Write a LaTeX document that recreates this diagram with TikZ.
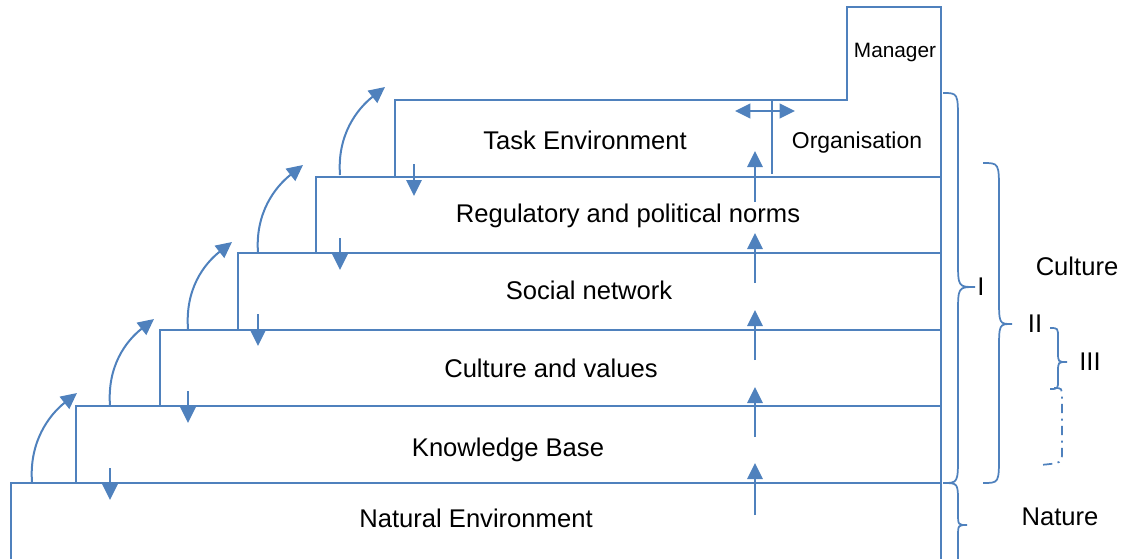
\documentclass[tikz,border=0pt]{standalone}
\usepackage{fontspec}
\setmainfont{Liberation Sans}
\usetikzlibrary{arrows.meta}
\definecolor{bl}{RGB}{79,129,189}
\begin{document}
\begin{tikzpicture}[x=0.75pt,y=-0.75pt,
  boxline/.style={draw=bl,line width=2pt},
  arr/.style={draw=bl,line width=1.5pt,-{Triangle[length=12pt,width=11.5pt]}},
  darr/.style={draw=bl,line width=1.5pt,{Triangle[length=11.5pt,width=11pt]}-{Triangle[length=11.5pt,width=11pt]}},
  br/.style={draw=bl,line width=1.3pt},
  txt/.style={inner sep=0pt,text depth=0pt,font=\fontsize{19.2pt}{23pt}\selectfont},
  smalltxt/.style={inner sep=0pt,text depth=0pt,font=\fontsize{15.6pt}{19pt}\selectfont},
  midtxt/.style={inner sep=0pt,text depth=0pt,font=\fontsize{17.2pt}{21pt}\selectfont}]
\useasboundingbox (0,0) rectangle (1123,558);
% layers
\draw[boxline] (11,572) -- (11,483) -- (941,483);
\draw[boxline] (76,483) -- (76,406) -- (941,406);
\draw[boxline] (160,406) -- (160,330) -- (941,330);
\draw[boxline] (238,330) -- (238,253) -- (941,253);
\draw[boxline] (316,253) -- (316,177) -- (941,177);
\draw[boxline] (395,177) -- (395,100) -- (847,100) -- (847,7) -- (941,7) -- (941,572);
\draw[boxline] (772,100) -- (772,174);
% texts
\node[txt] (nat) at (476,518) {Natural Environment};
\node[txt] (kb) at (508,447) {Knowledge Base};
\node[txt] (cv) at (551,368) {Culture and values};
\node[txt] (sn) at (589,290) {Social network};
\node[txt] (rp) at (628,213) {Regulatory and political norms};
\node[txt] (te) at (585,140) {Task Environment};
\node[midtxt] (org) at (857,140) {Organisation};
\node[smalltxt] (man) at (895,50) {Manager};
% double arrow
\coordinate (dl) at (735,111); \coordinate (dr) at (795,111);
\draw[darr] (dl) -- (dr);
% up arrows
\foreach \yb/\yt [count=\i] in {515/463,437/387,360/310,283/233,202/151}{
  \coordinate (ub\i) at (755,\yb); \coordinate (ut\i) at (755,\yt);
  \draw[arr] (ub\i) -- (ut\i);
}
% down arrows
\foreach \xx/\ya/\yb [count=\i] in {110/468/500,188/391/423,258/314/346,340/238/270,414/164/196}{
  \coordinate (da\i) at (\xx,\ya); \coordinate (db\i) at (\xx,\yb);
  \draw[arr] (da\i) -- (db\i);
}
% curved arrows
\foreach \xs/\ys/\xe/\ye [count=\i] in {32/482/77/393,110/406/154/319,188/329/232/242,258/253/303/165,340/175/385/87}{
  \coordinate (cs\i) at (\xs,\ys); \coordinate (ce\i) at (\xe,\ye);
  \draw[arr] (cs\i) .. controls ++(-3,-40) and ++(-28,22) .. (ce\i);
}
% braces
\draw[br] (943,93) .. controls (958,93) .. (958,122) -- (958,260) .. controls (958,287) .. (975,287)
  .. controls (958,287) .. (958,314) -- (958,455) .. controls (958,483) .. (943,483);
\node[txt] (bI) at (981,287) {I};
\draw[br] (983,163) .. controls (999,163) .. (999,192) -- (999,297) .. controls (999,324) .. (1012,324)
  .. controls (999,324) .. (999,351) -- (999,455) .. controls (999,483) .. (983,483);
\node[txt] (bII) at (1035,324) {II};
\draw[br] (1050,328) .. controls (1058,328) .. (1058,338) -- (1058,352) .. controls (1058,362) .. (1067,362)
  .. controls (1058,362) .. (1058,372) -- (1058,380) .. controls (1058,389) .. (1050,389);
\node[txt] (bIII) at (1090,362) {III};
\draw[br,dash pattern=on 7pt off 4pt on 1.5pt off 4pt] (1054,388) .. controls (1062,388) .. (1062,398) -- (1062,452) .. controls (1062,463) .. (1040,465);
\draw[br] (943,483) .. controls (958,483) .. (958,503) -- (958,513) .. controls (958,525) .. (967,525)
  .. controls (958,525) .. (958,537) -- (958,550) .. controls (958,570) .. (943,570);
\node[txt] (cul) at (1077,266) {Culture};
\node[txt] (nature) at (1060,517) {Nature};
\end{tikzpicture}
\end{document}
